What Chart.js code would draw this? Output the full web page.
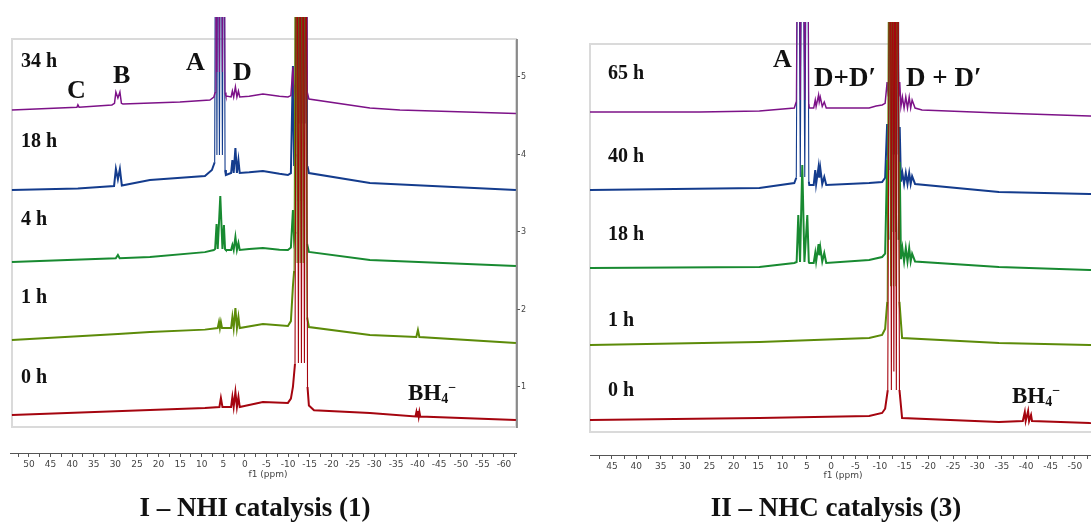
<!DOCTYPE html>
<html>
<head>
<meta charset="utf-8">
<script src="https://cdn.jsdelivr.net/npm/chart.js@4.4.1/dist/chart.umd.min.js"></script>
<style>
  html, body { margin: 0; padding: 0; background: #fff; overflow: hidden; width: 1091px; height: 523px; }
  canvas { position: absolute; top: 0; }
  #nhiChart { left: 0; }
  #nhcChart { left: 580px; }
</style>
</head>
<body>
<canvas id="nhiChart" width="545" height="523"></canvas>
<canvas id="nhcChart" width="570" height="523"></canvas>
<script>
// spectra as [ppm, intensity] pairs, stacked offsets
// tall peaks are given 9 so they run off the top like in the original
const nhiTimes = ["34 h", "18 h", "4 h", "1 h", "0 h"];
const nhcTimes = ["65 h", "40 h", "18 h", "1 h", "0 h"];
const traceColors = ["#7d1288", "#143c8d", "#188a31", "#5c8b09", "#a5050f"];
// lower number = drawn on top (red over the others in the big BH3 column)
const drawOrder = [3, 4, 2, 1, 0];

// I - NHI catalysis
const nhi34h = [[53.96,4.574],[38.9,4.61],[38.68,4.64],[38.4,4.61],[30.8,4.639],[30.2,4.66],[29.88,4.806],[29.41,4.73],[28.95,4.806],[28.6,4.66],[28.25,4.652],[15.05,4.677],[8.11,4.703],[7.18,4.742],[6.9,4.8],[6.72,9],[6.48,5.065],[6.25,9],[5.9,5.065],[5.56,9],[5.21,5.065],[4.86,9],[4.6,4.8],[4.4,4.755],[3.2,4.742],[2.9,4.819],[2.6,4.742],[2.2,4.871],[1.85,4.742],[1.5,4.819],[1.2,4.742],[-1,4.75],[-4.17,4.781],[-8,4.75],[-9.96,4.742],[-10.65,4.76],[-11.12,5.129],[-11.4,4.8],[-11.7,4.9],[-12.04,9],[-12.39,5.3],[-12.74,9],[-13.09,5.3],[-13.43,9],[-13.78,5.3],[-14.13,9],[-14.45,4.8],[-14.82,4.716],[-28.95,4.6],[-35.9,4.574],[-62.76,4.529]];
const nhi18h = [[53.96,3.542],[38.68,3.56],[33.58,3.581],[30.3,3.594],[29.88,3.813],[29.41,3.68],[28.95,3.813],[28.5,3.6],[22.0,3.671],[9.26,3.723],[7.64,3.8],[7.0,3.9],[6.72,9],[6.48,3.994],[6.25,9],[5.9,3.994],[5.56,9],[5.21,3.994],[4.86,9],[4.6,3.8],[4.4,3.735],[3.2,3.761],[2.9,3.929],[2.6,3.761],[2.2,4.084],[1.85,3.761],[1.5,3.929],[1.2,3.761],[-1,3.77],[-4.17,3.787],[-8,3.75],[-9.96,3.735],[-10.65,3.76],[-11.12,5.142],[-11.4,3.85],[-11.7,4.0],[-12.2,9],[-12.5,4.4],[-12.85,9],[-13.2,4.4],[-13.55,9],[-13.9,4.4],[-14.25,9],[-14.5,3.85],[-14.82,3.761],[-28.95,3.632],[-62.76,3.542]];
const nhi4h = [[53.96,2.613],[29.9,2.66],[29.41,2.703],[29.0,2.66],[22.0,2.677],[9.26,2.74],[7.2,2.768],[6.9,2.78],[6.56,3.103],[6.3,2.78],[5.7,3.465],[5.2,2.78],[4.86,3.09],[4.6,2.78],[4.4,2.768],[3.2,2.768],[2.9,2.832],[2.6,2.768],[2.2,2.935],[1.85,2.768],[1.5,2.858],[1.2,2.768],[-1,2.78],[-4.17,2.794],[-8,2.77],[-9.96,2.768],[-10.65,2.8],[-11.12,3.284],[-11.4,2.9],[-11.7,3.0],[-11.9,9],[-12.25,3.4],[-12.6,9],[-12.95,3.4],[-13.3,9],[-13.65,3.4],[-14.0,9],[-14.4,2.85],[-14.82,2.742],[-28.95,2.639],[-62.76,2.561]];
const nhi1h = [[53.96,1.606],[29.41,1.684],[22.0,1.71],[9.26,1.74],[6.3,1.761],[6.0,1.839],[5.79,1.761],[5.56,1.839],[5.3,1.761],[3.2,1.761],[2.9,1.903],[2.6,1.761],[2.2,2.019],[1.85,1.761],[1.5,1.903],[1.2,1.761],[-4.17,1.813],[-9.96,1.787],[-10.65,1.85],[-11.12,2.3],[-11.4,2.5],[-11.75,9],[-12.1,2.6],[-12.45,9],[-12.8,2.6],[-13.15,9],[-13.5,2.6],[-13.85,9],[-14.4,1.9],[-14.82,1.774],[-28.95,1.671],[-39.7,1.645],[-40.07,1.735],[-40.4,1.645],[-62.76,1.568]];
const nhi0h = [[53.96,0.639],[22.0,0.703],[9.26,0.73],[5.9,0.742],[5.56,0.858],[5.2,0.742],[3.2,0.742],[2.9,0.871],[2.6,0.742],[2.2,0.935],[1.85,0.742],[1.5,0.871],[1.2,0.742],[-4.17,0.806],[-9.96,0.794],[-10.65,0.85],[-11.12,1.0],[-11.6,1.3],[-12.04,9],[-12.39,1.31],[-12.74,9],[-13.09,1.31],[-13.43,9],[-13.78,1.31],[-14.13,9],[-14.5,1.0],[-14.82,0.76],[-16,0.7],[-28.95,0.665],[-39.5,0.62],[-39.72,0.677],[-39.9,0.62],[-40.07,0.69],[-40.25,0.62],[-40.41,0.677],[-40.6,0.62],[-62.76,0.574]];

// II - NHC catalysis
const nhc65h = [[49.55,4.548],[27.03,4.548],[14.74,4.561],[7.58,4.6],[7.17,4.68],[6.76,9],[6.35,4.703],[5.94,9],[5.43,4.703],[4.91,9],[4.6,4.65],[4.5,4.6],[3.6,4.6],[3.28,4.703],[3.1,4.62],[2.6,4.768],[2.46,4.68],[2.25,4.742],[1.84,4.62],[1.43,4.677],[1.02,4.6],[-7.78,4.6],[-9.21,4.626],[-10.44,4.64],[-11.06,4.66],[-11.47,4.935],[-11.75,4.75],[-12.08,9],[-12.34,5.0],[-12.59,9],[-12.85,5.0],[-13.1,9],[-13.36,5.0],[-13.61,9],[-13.83,4.75],[-14.05,4.935],[-14.3,4.62],[-14.6,4.742],[-14.95,4.6],[-15.3,4.742],[-15.65,4.6],[-16.0,4.742],[-16.3,4.6],[-16.6,4.703],[-17.2,4.6],[-18.63,4.574],[-34.4,4.535],[-53.03,4.497],[-65,4.48]];
const nhc40h = [[49.55,3.542],[14.74,3.568],[7.58,3.632],[7.17,3.7],[6.76,9],[6.35,3.71],[5.94,9],[5.43,3.71],[4.91,9],[4.6,3.65],[4.5,3.606],[3.6,3.606],[3.28,3.8],[3.1,3.62],[2.6,3.839],[2.46,3.7],[2.25,3.826],[1.84,3.62],[1.43,3.71],[1.02,3.606],[-7.78,3.632],[-10.44,3.645],[-11.06,3.7],[-11.47,4.394],[-11.75,3.8],[-12.2,9],[-12.45,4.0],[-12.7,9],[-12.95,4.0],[-13.2,9],[-13.45,4.0],[-13.7,9],[-13.9,3.8],[-14.05,4.355],[-14.3,3.65],[-14.6,3.761],[-14.95,3.62],[-15.3,3.761],[-15.65,3.62],[-16.0,3.761],[-16.3,3.62],[-16.6,3.72],[-17.2,3.62],[-34.4,3.516],[-53.03,3.49],[-65,3.47]];
const nhc18h = [[49.55,2.535],[14.74,2.548],[7.58,2.6],[7.1,2.613],[6.76,3.219],[6.4,2.613],[5.94,3.865],[5.5,2.613],[4.91,3.219],[4.6,2.613],[4.5,2.6],[3.6,2.6],[3.28,2.729],[3.1,2.62],[2.6,2.845],[2.46,2.7],[2.25,2.806],[1.84,2.62],[1.43,2.729],[1.02,2.6],[-7.78,2.639],[-10.44,2.677],[-11.06,2.72],[-11.47,3.929],[-11.75,2.9],[-11.95,9],[-12.2,3.0],[-12.45,9],[-12.7,3.0],[-12.95,9],[-13.2,3.0],[-13.45,9],[-13.83,2.9],[-14.05,3.903],[-14.3,2.65],[-14.6,2.794],[-14.95,2.62],[-15.3,2.794],[-15.65,2.62],[-16.0,2.794],[-16.3,2.62],[-16.6,2.72],[-17.2,2.62],[-34.4,2.548],[-53.03,2.51],[-65,2.5]];
const nhc1h = [[49.55,1.542],[14.74,1.581],[-7.78,1.632],[-10.44,1.671],[-11.06,1.75],[-11.5,2.1],[-11.9,9],[-12.2,2.3],[-12.45,9],[-12.75,2.3],[-13.0,9],[-13.3,2.3],[-13.55,9],[-14.0,2.1],[-14.54,1.632],[-34.4,1.568],[-53.03,1.542],[-65,1.53]];
const nhc0h = [[49.55,0.574],[14.74,0.6],[-7.78,0.626],[-10.44,0.665],[-11.06,0.72],[-11.6,0.961],[-12.08,9],[-12.34,0.961],[-12.59,9],[-12.85,1.2],[-13.1,9],[-13.36,0.961],[-13.61,9],[-14.0,0.961],[-14.54,0.6],[-34.4,0.548],[-39.31,0.561],[-39.72,0.677],[-39.9,0.561],[-40.4,0.69],[-40.6,0.561],[-41.0,0.639],[-41.2,0.561],[-53.03,0.535],[-65,0.53]];

const nhiSpectra = [nhi34h, nhi18h, nhi4h, nhi1h, nhi0h];
const nhcSpectra = [nhc65h, nhc40h, nhc18h, nhc1h, nhc0h];

// frame box and the short right axis line
const framePlugin = {
  id: "frame",
  beforeDatasetsDraw(chart, args, opts) {
    const ctx = chart.ctx;
    const f = opts.box;
    ctx.save();
    ctx.strokeStyle = "#dadada";
    ctx.lineWidth = 2;
    ctx.strokeRect(f[0] - opts.offset, f[1], f[2] - f[0], f[3] - f[1]);
    if (opts.axisLine) {
      ctx.strokeStyle = "#6f6f6f";
      ctx.lineWidth = 1.5;
      ctx.beginPath();
      ctx.moveTo(opts.axisLine[0] - opts.offset, opts.axisLine[1]);
      ctx.lineTo(opts.axisLine[0] - opts.offset, opts.axisLine[2]);
      ctx.stroke();
    }
    ctx.restore();
  }
};

// labels: time stamps, peak letters, BH4-, titles
const textPlugin = {
  id: "texts",
  afterDraw(chart, args, opts) {
    const ctx = chart.ctx;
    ctx.save();
    ctx.textBaseline = "alphabetic";
    opts.items.forEach(t => {
      ctx.fillStyle = t.color || "#111";
      if (t.parts) {
        // BH4- : main text then subscript / superscript after it
        let x = t.x - opts.offset;
        ctx.textAlign = "left";
        t.parts.forEach(p => {
          ctx.font = "bold " + p.size + "px 'Liberation Serif'";
          ctx.fillText(p.text, x, t.y + (p.dy || 0));
          x += ctx.measureText(p.text).width;
        });
        return;
      }
      ctx.font = t.font;
      ctx.textAlign = t.align || "left";
      ctx.fillText(t.text, t.x - opts.offset, t.y);
    });
    ctx.restore();
  }
};

function lbl(text, x, y, size) {
  return { text: text, x: x, y: y, font: "bold " + size + "px 'Liberation Serif'" };
}
function small(text, x, y) {
  return { text: text, x: x, y: y, font: "9px 'DejaVu Sans'", color: "#444", align: "center" };
}
function bh4(x, y) {
  return { x: x, y: y, parts: [{ text: "BH", size: 23 }, { text: "4", size: 14, dy: 3 }, { text: "\u2212", size: 14, dy: -8 }] };
}

function makeDatasets(spectra, times) {
  return spectra.map((s, i) => ({
    label: times[i],
    data: s.map(p => ({ x: p[0], y: p[1] })),
    borderColor: traceColors[i],
    borderWidth: i === 0 ? 1.5 : 2,
    // off-scale peaks are thin lines so the overlapping traces show through
    segment: {
      borderWidth: c => (c.p0.parsed.y > 6 || c.p1.parsed.y > 6 ? 1.1 : undefined)
    },
    order: drawOrder[i],
    pointRadius: 0,
    tension: 0,
    fill: false
  }));
}

function xScale(min, max, lastLabel) {
  return {
    type: "linear",
    reverse: true,
    min: min,
    max: max,
    afterFit(scale) { scale.height = 30; },
    border: { display: true, color: "#555", width: 1 },
    grid: { drawOnChartArea: false, drawTicks: true, tickLength: 4, color: "#555" },
    ticks: {
      stepSize: 2.5,
      includeBounds: false,
      autoSkip: false,
      maxRotation: 0,
      padding: 2,
      color: "#444",
      font: { family: "DejaVu Sans", size: 9 },
      callback: v => (v % 5 === 0 && v >= lastLabel ? String(v) : "")
    }
  };
}

new Chart(document.getElementById("nhiChart"), {
  type: "line",
  data: { datasets: makeDatasets(nhiSpectra, nhiTimes) },
  options: {
    responsive: false,
    animation: false,
    layout: { padding: { left: 10, right: 9, top: 17, bottom: 40 } },
    plugins: {
      legend: { display: false },
      tooltip: { enabled: false },
      frame: { box: [12, 39, 516, 427], axisLine: [517, 39, 428], offset: 0 },
      texts: {
        offset: 0,
        items: [
          lbl(nhiTimes[0], 21, 67, 20), lbl(nhiTimes[1], 21, 147, 20), lbl(nhiTimes[2], 21, 225, 20),
          lbl(nhiTimes[3], 21, 303, 20), lbl(nhiTimes[4], 21, 383, 20),
          lbl("C", 67, 98, 26), lbl("B", 113, 83, 26), lbl("A", 186, 70, 26), lbl("D", 233, 80, 26),
          bh4(408, 400),
          small("f1 (ppm)", 268, 477),
          { text: "I \u2013 NHI catalysis (1)", x: 255, y: 516, font: "bold 27px 'Liberation Serif'", align: "center" }
        ]
      }
    },
    scales: {
      x: xScale(-62.78, 54.4, -60),
      y: {
        type: "linear",
        position: "right",
        min: 0.148,
        max: 5.774,
        afterFit(scale) { scale.width = 20; },
        border: { display: false },
        grid: { drawOnChartArea: false, drawTicks: true, tickLength: 4, color: "#555" },
        ticks: {
          stepSize: 1,
          includeBounds: false,
          padding: 1,
          color: "#444",
          font: { family: "DejaVu Sans", size: 8 }
        }
      }
    }
  },
  plugins: [framePlugin, textPlugin]
});

new Chart(document.getElementById("nhcChart"), {
  type: "line",
  data: { datasets: makeDatasets(nhcSpectra, nhcTimes) },
  options: {
    responsive: false,
    animation: false,
    layout: { padding: { left: 10, right: 0, top: 22, bottom: 38 } },
    plugins: {
      legend: { display: false },
      tooltip: { enabled: false },
      frame: { box: [590, 44, 1160, 432], offset: 580 },
      texts: {
        offset: 580,
        items: [
          lbl(nhcTimes[0], 608, 79, 20), lbl(nhcTimes[1], 608, 162, 20), lbl(nhcTimes[2], 608, 240, 20),
          lbl(nhcTimes[3], 608, 326, 20), lbl(nhcTimes[4], 608, 396, 20),
          lbl("A", 773, 67, 26), lbl("D+D\u2032", 814, 86, 27), lbl("D + D\u2032", 906, 86, 27),
          bh4(1012, 403),
          small("f1 (ppm)", 843, 478),
          { text: "II \u2013 NHC catalysis (3)", x: 836, y: 516, font: "bold 27px 'Liberation Serif'", align: "center" }
        ]
      }
    },
    scales: {
      x: xScale(-65.15, 49.5, -55),
      y: { type: "linear", display: false, min: 0.1226, max: 5.71 }
    }
  },
  plugins: [framePlugin, textPlugin]
});
</script>
</body>
</html>
